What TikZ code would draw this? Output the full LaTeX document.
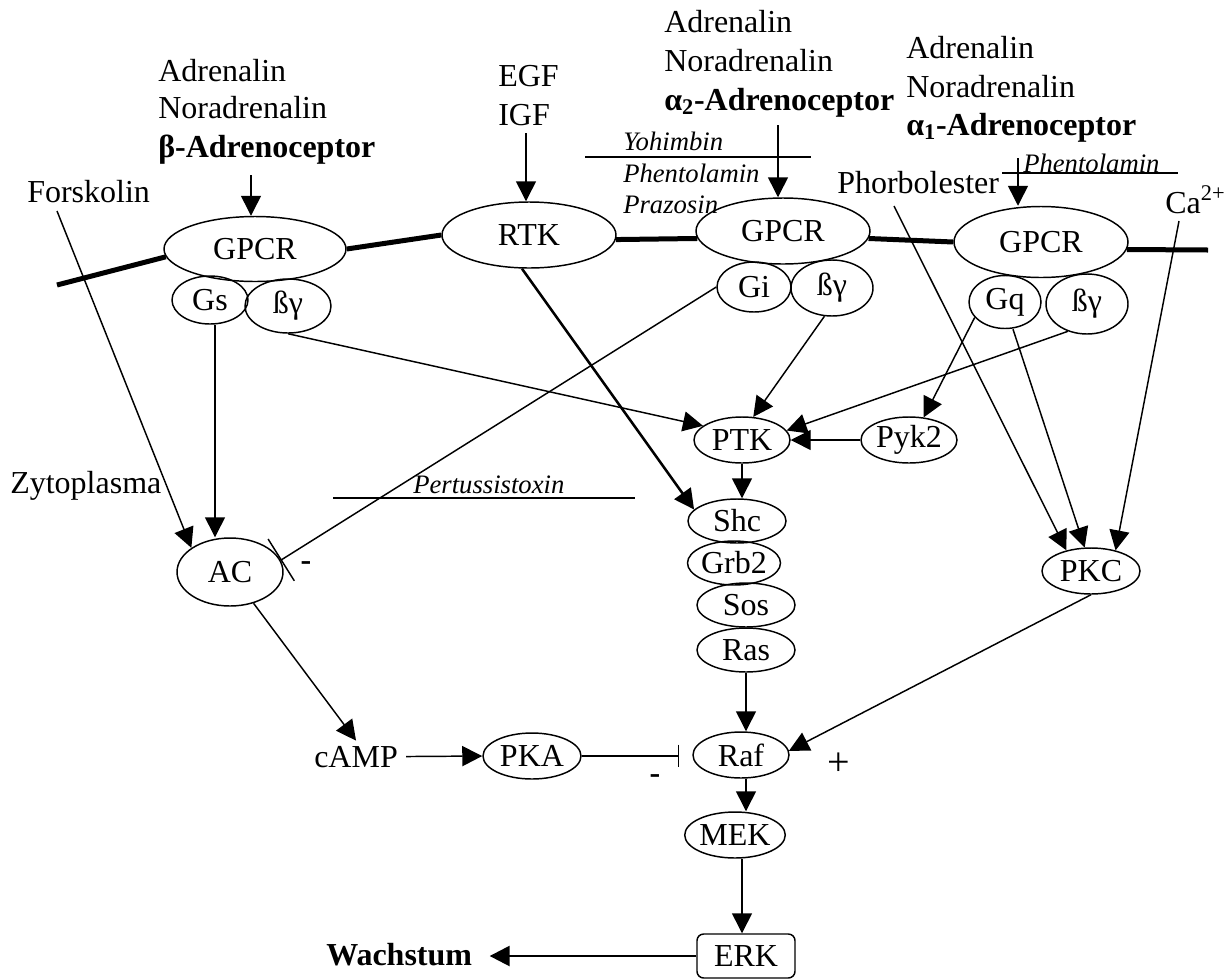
\documentclass[tikz,border=0pt]{standalone}
\usepackage{fontspec}
\setmainfont{Liberation Serif}
\usetikzlibrary{arrows.meta,shapes.geometric}
\newcommand{\fsz}{\fontsize{24}{28}\selectfont}
\newcommand{\fsi}{\fontsize{20}{24}\selectfont\itshape}
\newcommand{\fsp}{\fontsize{30}{34}\selectfont}
\begin{document}
\begin{tikzpicture}[x=0.75pt,y=-0.75pt,
  txt/.style={inner sep=0pt, anchor=base west, font=\fsz},
  btx/.style={inner sep=0pt, anchor=base west, font=\fsz\bfseries},
  itx/.style={inner sep=0pt, anchor=base west, font=\fsi},
  el/.style 2 args={ellipse, draw, line width=1.1pt, minimum width=#1*0.75pt, minimum height=#2*0.75pt, inner sep=0pt, font=\fsz},
  ln/.style={line width=1.1pt},
  arr/.style={line width=1.1pt, -{Triangle[length=15pt,width=15pt]}},
  inh/.style={line width=1.1pt, -{Bar[width=#1]}},
  memb/.style={line width=3.75pt}]
\useasboundingbox (0,0) rectangle (1228,979);

% receptor / membrane nodes
\node[el={182}{65}] (gpcrA) at (255,249) {GPCR};
\node[el={76}{48}] (gs) at (210,300) {Gs};
\node[el={86}{54}] (bgA) at (288,306) {ßγ};
\node[el={174}{66}] (rtk) at (529,235) {RTK};
\node[el={174}{66}] (gpcrB) at (783,231) {GPCR};
\node[el={74}{50}] (gi) at (754,287) {Gi};
\node[el={82}{56}] (bgB) at (832,288) {ßγ};
\node[el={174}{71}] (gpcrC) at (1041,242) {GPCR};
\node[el={72}{53}] (gq) at (1005,302) {Gq};
\node[el={82}{60}] (bgC) at (1087,304) {ßγ};
% cytoplasm nodes
\node[el={96}{46}] (ptk) at (742,440) {PTK};
\node[el={96}{46}] (pyk) at (909,440) {Pyk2};
\node[el={98}{44}] (shc) at (737,521) {Shc};
\node[el={90}{44}] (grb) at (734,563) {Grb2};
\node[el={98}{44}] (sos) at (746,605) {Sos};
\node[el={98}{44}] (ras) at (746,650) {Ras};
\node[el={106}{68}] (ac) at (230,572) {AC};
\node[el={98}{46}] (pkc) at (1091,571) {PKC};
\node[el={98}{46}] (pka) at (532,756) {PKA};
\node[el={96}{46}] (raf) at (741,755) {Raf};
\node[el={96}{46}] (mek) at (735,835) {MEK};
\node[draw, rounded corners=5pt, line width=1.1pt, minimum width=73.5pt, minimum height=33pt, inner sep=0pt, font=\fsz] (erk) at (746,956) {ERK};

% texts
\node[txt] (adrA) at (158,81) {Adrenalin};
\node[txt] (noradA) at (158,118) {Noradrenalin};
\node[btx] (betaA) at (158,157) {β-Adrenoceptor};
\node[txt] (fors) at (27,202) {Forskolin};
\node[txt] (egf) at (498,86) {EGF};
\node[txt] (igf) at (498,125) {IGF};
\node[txt] (adrB) at (664,32) {Adrenalin};
\node[txt] (noradB) at (664,71) {Noradrenalin};
\node[btx] (alphaB) at (664,110) {α\textsubscript{2}-Adrenoceptor};
\node[itx] (yoh) at (623,150) {Yohimbin};
\node[itx] (phenB) at (623,182) {Phentolamin};
\node[itx] (praz) at (623,213) {Prazosin};
\node[txt] (adrC) at (906,58) {Adrenalin};
\node[txt] (noradC) at (906,97) {Noradrenalin};
\node[btx] (alphaC) at (906,135) {α\textsubscript{1}-Adrenoceptor};
\node[itx] (phenC) at (1023,172) {Phentolamin};
\node[txt] (phorb) at (837,193) {Phorbolester};
\node[txt] (ca) at (1165,213) {Ca\textsuperscript{2+}};
\node[txt] (zyto) at (10,493) {Zytoplasma};
\node[itx] (pert) at (413,493) {Pertussistoxin};
\node[txt] (camp) at (314,767) {cAMP};
\node[btx] (wachs) at (326,965) {Wachstum};
\node[font=\fsz\bfseries, inner sep=0pt] (minusA) at (306,566) {-};
\node[font=\fsz\bfseries, inner sep=0pt] (minusB) at (655,779) {-};
\node[font=\fsp, inner sep=0pt] (plus) at (839,764) {+};

% free ends
\coordinate (memL) at (57,285);
\coordinate (memR) at (1208,250);
\coordinate (sBeta) at (251,175);
\coordinate (sIGF) at (526,133);
\coordinate (sA2) at (778,125);
\coordinate (sA1) at (1018,158);
\coordinate (sFors) at (57,211);
\coordinate (sPh) at (894,206);
\coordinate (sCa) at (1179,221);
\coordinate (yohL) at (585,157);
\coordinate (yohR) at (811,157);
\coordinate (phenL) at (1002,173);
\coordinate (phenR) at (1178,173);
\coordinate (pertL) at (333,498);
\coordinate (pertR) at (635,498);

% membrane
\draw[memb] (memL) -- (gpcrA.185);
\draw[memb] (gpcrA.east) -- (rtk.west);
\draw[memb] (rtk.-3) -- (gpcrB.185);
\draw[memb] (gpcrB.-5) -- (gpcrC.west);
\draw[memb] (gpcrC.-5) -- (memR);

% blocker lines
\draw[ln] (yohL) -- (yohR);
\draw[ln] (phenL) -- (phenR);
\draw[ln] (pertL) -- (pertR);

% ligand arrows
\draw[arr] (sBeta) -- (sBeta |- gpcrA.north);
\draw[arr] (sIGF) -- (sIGF |- rtk.north);
\draw[arr] (sA2) -- (sA2 |- gpcrB.north);
\draw[arr] (sA1) -- (sA1 |- gpcrC.north);
\draw[arr] (sFors) -- (ac.148);
\draw[arr] (sPh) -- (pkc.140);
\draw[arr] (sCa) -- (pkc.40);

% signalling
\draw[arr] ([xshift=3.75pt]gs.south) -- ([xshift=3.75pt]gs.south |- ac.north);
\draw[arr] (bgA.south) -- (ptk.160);
\draw[inh=37pt] (gi.west) -- (ac.13);
\draw[arr, line width=1.9pt] ([xshift=-5.25pt]rtk.south) -- (shc.165);
\draw[arr] (bgB.-105) -- (ptk.64);
\draw[arr] (gq.207) -- (pyk.57);
\draw[arr] ([xshift=6pt]gq.south) -- (pkc.105);
\draw[arr] (bgC.-125) -- (ptk.12);
\draw[arr] (pyk.west) -- (ptk.east);
\draw[arr] (ptk.south) -- (ptk.south |- shc.north);
\draw[arr] (ac.-53) -- ([yshift=3.75pt]camp.north);
\draw[arr, shorten <=6pt] (camp.east) -- (pka.west);
\draw[inh=17pt, shorten >=9.75pt] (pka.east) -- (pka.east -| raf.west);
\draw[arr] (ras.south) -- (ras.south |- raf.north);
\draw[arr] (pkc.south) -- (raf.5);
\draw[arr] (ras.south |- raf.south) -- (ras.south |- mek.north);
\draw[arr] ([xshift=5.25pt]mek.south) -- ([xshift=5.25pt]mek.south |- erk.north);
\draw[arr, line width=1.9pt, shorten >=13pt] (erk.west) -- (wachs.east |- erk.west);
\end{tikzpicture}
\end{document}
